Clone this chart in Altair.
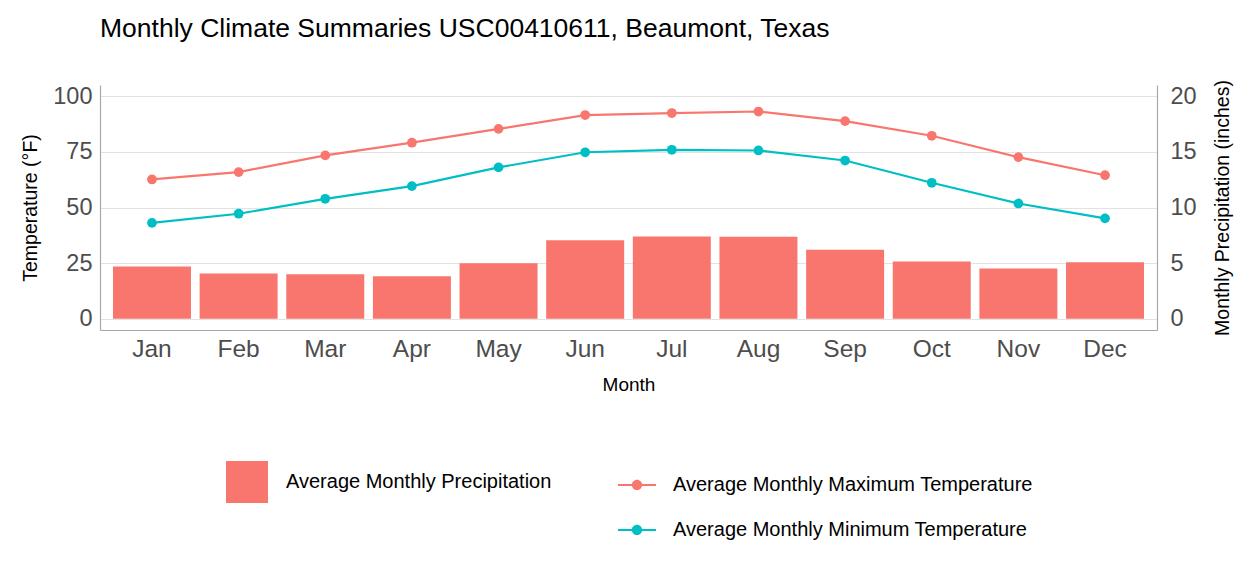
import altair as alt
import pandas as pd

months = ["Jan", "Feb", "Mar", "Apr", "May", "Jun", "Jul", "Aug", "Sep", "Oct", "Nov", "Dec"]
tmax = [62.6, 65.9, 73.4, 79.1, 85.3, 91.5, 92.4, 93.1, 88.8, 82.2, 72.6, 64.5]
tmin = [43.1, 47.2, 53.9, 59.6, 68.0, 74.8, 75.9, 75.6, 71.1, 61.1, 51.8, 45.1]
precip = [4.70, 4.07, 4.01, 3.83, 5.00, 7.06, 7.40, 7.37, 6.20, 5.15, 4.52, 5.09]

precip_label = "Average Monthly Precipitation"
max_label = "Average Monthly Maximum Temperature"
min_label = "Average Monthly Minimum Temperature"
temp_ticks = [0, 25, 50, 75, 100]
precip_ticks = [0, 5, 10, 15, 20]

RED = "#F8766D"
TEAL = "#00BFC4"
FONT = "Liberation Sans"

df_p = pd.DataFrame({"Month": months, "Precip": precip, "PSeries": precip_label})
df_t = pd.concat([
    pd.DataFrame({"Month": months, "Temp": tmax, "Series": max_label}),
    pd.DataFrame({"Month": months, "Temp": tmin, "Series": min_label}),
])
df_t["Line"] = df_t["Series"]

x_enc = alt.X(
    "Month:N", sort=months,
    scale=alt.Scale(paddingInner=0.1, paddingOuter=0.15),
    axis=alt.Axis(title="Month", labelAngle=0, labelFontSize=24.5, labelPadding=7,
                  titleFontSize=19, titlePadding=15, ticks=False, tickSize=0, grid=False),
)

bars = alt.Chart(df_p).mark_bar(opacity=1).encode(
    x=x_enc,
    y=alt.Y("Precip:Q",
            scale=alt.Scale(domain=[-1, 21], nice=False, zero=False),
            axis=alt.Axis(orient="right", values=precip_ticks, title="Monthly Precipitation (inches)",
                          grid=False, ticks=False, tickSize=0, labelFontSize=23.5, labelPadding=13,
                          titleFontSize=19.5, titleAngle=270, titleBaseline="top", titlePadding=17)),
    y2=alt.datum(0),
    fill=alt.Fill("PSeries:N",
                  scale=alt.Scale(domain=[precip_label], range=[RED]),
                  legend=alt.Legend(orient="none", legendX=126, legendY=376, title=None,
                                    symbolType="square", symbolSize=1764, symbolStrokeWidth=0,
                                    symbolOpacity=1, labelFontSize=20, labelOffset=18,
                                    labelLimit=0, labelColor="black", labelFont=FONT)),
)

temp_scale = alt.Scale(domain=[-5, 105], nice=False, zero=False)
temp_axis = alt.Axis(orient="left", values=temp_ticks, title="Temperature (°F)",
                     grid=True, ticks=False, tickSize=0, labelFontSize=23.5, labelPadding=8,
                     titleFontSize=19.5, titlePadding=12)
series_scale = alt.Scale(domain=[max_label, min_label], range=[RED, TEAL])

lines = alt.Chart(df_t).mark_line(strokeWidth=2.2).encode(
    x=x_enc,
    y=alt.Y("Temp:Q", scale=temp_scale, axis=temp_axis),
    stroke=alt.Stroke("Line:N", scale=alt.Scale(range=[RED, TEAL]), legend=None),
)

legend_path = ("M-1,-0.055H1V0.055H-1Z "
               "M-0.27,0A0.27,0.27,0,1,1,0.27,0A0.27,0.27,0,1,1,-0.27,0Z")

points = alt.Chart(df_t).mark_circle(size=95, opacity=1).encode(
    x=x_enc,
    y=alt.Y("Temp:Q", scale=temp_scale, axis=temp_axis),
    color=alt.Color("Series:N", scale=series_scale,
                    legend=alt.Legend(orient="none", legendX=518, legendY=381, title=None,
                                      direction="vertical", symbolType=legend_path,
                                      symbolSize=1444, symbolStrokeWidth=0, symbolOpacity=1,
                                      labelFontSize=20, labelOffset=17, rowPadding=16,
                                      labelLimit=0, labelColor="black", labelFont=FONT)),
)

chart = alt.layer(bars, alt.layer(lines, points)).resolve_scale(
    y="independent"
).properties(
    width=1057, height=245,
    autosize=alt.AutoSizeParams(type="none"),
    padding={"left": 92, "top": 77, "right": 90, "bottom": 240},
    background="white",
    title=alt.TitleParams("Monthly Climate Summaries USC00410611, Beaumont, Texas",
                          anchor="start", frame="group", fontSize=26.5, font=FONT,
                          fontWeight="normal", color="black", offset=37),
).configure_view(stroke=None).configure_axis(
    domainColor="#A8A8A8", domainWidth=1.2, gridColor="#E2E2E2", gridWidth=1,
    labelFont=FONT, titleFont=FONT, labelColor="#4D4D4D", titleColor="black",
    titleFontWeight="normal",
)

chart.save("out.html", embed_options={"renderer": "svg", "actions": False})
